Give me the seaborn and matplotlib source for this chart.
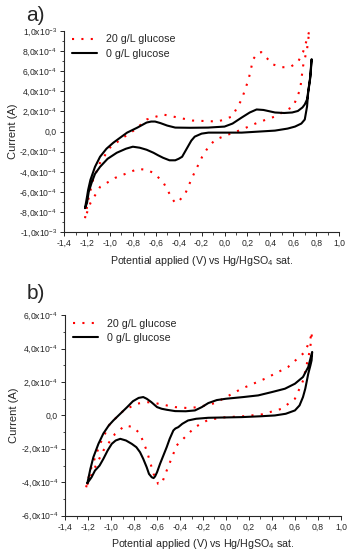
import numpy as np
import pandas as pd
import matplotlib
matplotlib.use("Agg")
import matplotlib.pyplot as plt
import seaborn as sns
from matplotlib.ticker import MultipleLocator, FuncFormatter

# ---------------- data (current in 1e-4 A) ----------------
# panel a, 0 g/L glucose
a0_v = [-1.217, -1.20, -1.19, -1.17, -1.13, -1.086, -1.03, -0.97, -0.91, -0.85,
        -0.76, -0.72, -0.68, -0.64, -0.606, -0.56, -0.50, -0.43, -0.3, -0.143,
        0.0, 0.07, 0.15, 0.22, 0.28, 0.34, 0.44, 0.52, 0.59, 0.64,
        0.68, 0.70, 0.72, 0.745, 0.76,
        0.75, 0.73, 0.72, 0.70, 0.67, 0.615, 0.55, 0.44, 0.15, -0.14,
        -0.2, -0.26, -0.29, -0.32, -0.345, -0.37, -0.40, -0.43, -0.48, -0.536,
        -0.58, -0.62, -0.68, -0.74, -0.80, -0.86, -0.94, -1.02, -1.086, -1.13,
        -1.16, -1.185, -1.2, -1.217]
a0_i = [-7.6, -6.5, -5.8, -4.8, -3.5, -2.5, -1.7, -1.1, -0.6, -0.1,
        0.4, 0.65, 0.9, 1.0, 1.0, 0.85, 0.6, 0.4, 0.38, 0.4,
        0.5, 0.8, 1.4, 1.9, 2.2, 2.15, 1.9, 1.85, 1.9, 2.05,
        2.4, 2.7, 3.2, 5.2, 7.2,
        5.5, 3.9, 2.5, 1.2, 0.8, 0.5, 0.3, 0.1, -0.1, -0.1,
        -0.2, -0.5, -0.9, -1.5, -2.0, -2.5, -2.7, -2.85, -2.85, -2.6,
        -2.35, -2.1, -1.8, -1.6, -1.5, -1.7, -2.1, -2.7, -3.5, -4.2,
        -5.1, -6.0, -7.1, -7.6]

# panel a, 20 g/L glucose
a20_v = [-1.217, -1.19, -1.147, -1.086, -1.0, -0.885, -0.78, -0.68, -0.536, -0.45,
         -0.28, -0.056, 0.066, 0.15, 0.21, 0.25, 0.29, 0.32, 0.37, 0.415,
         0.50, 0.57, 0.64, 0.685, 0.72, 0.74,
         0.72, 0.685, 0.66, 0.60, 0.44, 0.29, 0.15, 0.03, -0.08, -0.14,
         -0.195, -0.28, -0.34, -0.39, -0.43, -0.46, -0.536, -0.62, -0.68, -0.755,
         -0.82, -0.955, -1.086, -1.17, -1.217]
a20_i = [-8.6, -6.8, -4.8, -3.1, -1.6, -0.6, 0.2, 1.2, 1.7, 1.5,
         1.1, 1.0, 1.5, 3.2, 5.2, 7.2, 7.8, 7.9, 7.3, 6.7,
         6.4, 6.4, 6.9, 7.9, 9.2, 10.0,
         8.2, 6.5, 4.2, 2.5, 1.5, 0.9, 0.2, -0.3, -0.8, -1.5,
         -2.5, -4.5, -6.1, -6.8, -7.1, -6.6, -5.0, -4.1, -3.8, -3.7,
         -4.0, -4.6, -5.5, -7.1, -8.6]

# panel b, 0 g/L glucose
b0_v = [-1.206, -1.18, -1.154, -1.11, -1.067, -1.02, -0.98, -0.92, -0.86, -0.81,
        -0.76, -0.72, -0.69, -0.65, -0.60, -0.56, -0.516, -0.443, -0.35, -0.27,
        -0.21, -0.154, -0.08, 0.0, 0.15, 0.28, 0.4, 0.513, 0.6, 0.67,
        0.716, 0.75,
        0.745, 0.735, 0.716, 0.69, 0.67, 0.64, 0.60, 0.52, 0.426, 0.3,
        0.136, -0.154, -0.26, -0.33, -0.38, -0.415, -0.44, -0.458, -0.49, -0.516,
        -0.545, -0.574, -0.60, -0.617, -0.63, -0.646, -0.67, -0.69, -0.72, -0.748,
        -0.78, -0.82, -0.87, -0.92, -0.96, -0.994, -1.03, -1.067, -1.10, -1.14,
        -1.17, -1.206]
b0_i = [-4.05, -3.2, -2.5, -1.7, -1.08, -0.6, -0.3, 0.1, 0.5, 0.85,
        1.05, 1.1, 1.0, 0.8, 0.5, 0.4, 0.34, 0.26, 0.25, 0.3,
        0.5, 0.74, 0.92, 1.0, 1.1, 1.2, 1.4, 1.6, 1.9, 2.3,
        2.9, 3.8,
        3.3, 3.0, 2.5, 1.6, 1.1, 0.6, 0.3, 0.1, 0.0, -0.05,
        -0.1, -0.14, -0.2, -0.3, -0.5, -0.7, -0.78, -0.9, -1.4, -1.9,
        -2.4, -2.9, -3.4, -3.65, -3.75, -3.7, -3.5, -3.1, -2.6, -2.2,
        -1.9, -1.7, -1.5, -1.4, -1.5, -1.7, -2.1, -2.6, -3.0, -3.3,
        -3.7, -4.05]

# panel b, 20 g/L glucose
b20_v = [-1.217, -1.18, -1.096, -1.01, -0.89, -0.777, -0.69, -0.617, -0.516, -0.443,
         -0.33, -0.24, -0.096, 0.136, 0.34, 0.54, 0.687, 0.73, 0.75,
         0.73, 0.672, 0.60, 0.485, 0.31, 0.136, 0.0, -0.154, -0.27, -0.357,
         -0.43, -0.458, -0.516, -0.56, -0.59, -0.63, -0.69, -0.748, -0.806, -0.878,
         -0.965, -1.067, -1.154, -1.217]
b20_i = [-4.3, -3.3, -1.7, -0.5, 0.3, 0.7, 0.8, 0.74, 0.6, 0.5,
         0.44, 0.5, 0.74, 1.6, 2.2, 2.9, 3.8, 4.5, 5.0,
         3.9, 2.1, 1.0, 0.4, 0.06, -0.06, -0.1, -0.26, -0.7, -1.3,
         -1.8, -2.3, -3.3, -4.1, -4.1, -3.5, -2.1, -1.1, -0.7, -0.6,
         -1.1, -2.1, -3.3, -4.3]

labels = ["20 g/L glucose", "0 g/L glucose"]


def make_df(v20, i20, v0, i0):
    d20 = pd.DataFrame({"V": v20, "I": np.array(i20) * 1e-4, "sample": labels[0]})
    d0 = pd.DataFrame({"V": v0, "I": np.array(i0) * 1e-4, "sample": labels[1]})
    return pd.concat([d20, d0], ignore_index=True)


df_a = make_df(a20_v, a20_i, a0_v, a0_i)
df_b = make_df(b20_v, b20_i, b0_v, b0_i)

# ---------------- style ----------------
sns.set_style("ticks")
plt.rcParams["font.family"] = ["Liberation Sans", "DejaVu Sans"]
plt.rcParams["mathtext.fontset"] = "custom"
plt.rcParams["mathtext.rm"] = "Liberation Sans"
plt.rcParams["mathtext.it"] = "Liberation Sans"
plt.rcParams["lines.solid_joinstyle"] = "round"


def sci_fmt(val, pos):
    if abs(val) < 1e-12:
        return "0,0"
    exp = int(np.floor(np.log10(abs(val)) + 1e-9))
    mant = val / 10 ** exp
    s = f"{mant:.1f}".replace(".", ",")
    return s + r"x10$^{" + f"{exp}" + "}$"


def x_fmt(val, pos):
    return f"{val:.1f}".replace(".", ",").replace("-0,0", "0,0")


fig = plt.figure(figsize=(3.5, 5.53), dpi=100)
ax_a = fig.add_axes([0.183, 0.580, 0.786, 0.364])
ax_b = fig.add_axes([0.186, 0.0675, 0.788, 0.3625])

palette = {labels[0]: "red", labels[1]: "black"}
dashes = {labels[0]: (1, 3.5), labels[1]: ""}

for ax, df, ylim in [(ax_a, df_a, (-1e-3, 1e-3)), (ax_b, df_b, (-6e-4, 6e-4))]:
    sns.lineplot(data=df, x="V", y="I", hue="sample", style="sample",
                 units="sample", estimator=None, sort=False,
                 palette=palette, dashes=dashes, ax=ax, linewidth=1.5)
    ax.set_xlim(-1.4, 1.0)
    ax.set_ylim(*ylim)
    ax.xaxis.set_major_locator(MultipleLocator(0.2))
    ax.xaxis.set_minor_locator(MultipleLocator(0.1))
    ax.yaxis.set_major_locator(MultipleLocator(2e-4))
    ax.yaxis.set_minor_locator(MultipleLocator(1e-4))
    ax.xaxis.set_major_formatter(FuncFormatter(x_fmt))
    ax.yaxis.set_major_formatter(FuncFormatter(sci_fmt))
    ax.tick_params(which="major", direction="out", length=3, width=0.7, labelsize=6.2, pad=2)
    ax.tick_params(which="minor", direction="out", length=1.8, width=0.6)
    sns.despine(ax=ax)
    for sp in ax.spines.values():
        sp.set_linewidth(0.8)
    ax.set_xlabel(r"Potential applied (V) vs Hg/HgSO$_4$ sat.", fontsize=7.7, labelpad=4)
    ax.set_ylabel("Current (A)", fontsize=8, labelpad=1)
    leg = ax.legend(loc="upper left", frameon=False, fontsize=7.7,
                    handlelength=2.4, borderaxespad=0.3, labelspacing=0.4,
                    bbox_to_anchor=(0.0, 1.02))
    for h in leg.get_lines():
        h.set_linewidth(1.5)

fig.text(0.075, 0.972, "a)", fontsize=15, ha="left", va="center")
fig.text(0.075, 0.470, "b)", fontsize=15, ha="left", va="center")

fig.savefig("out.png", dpi=100)
